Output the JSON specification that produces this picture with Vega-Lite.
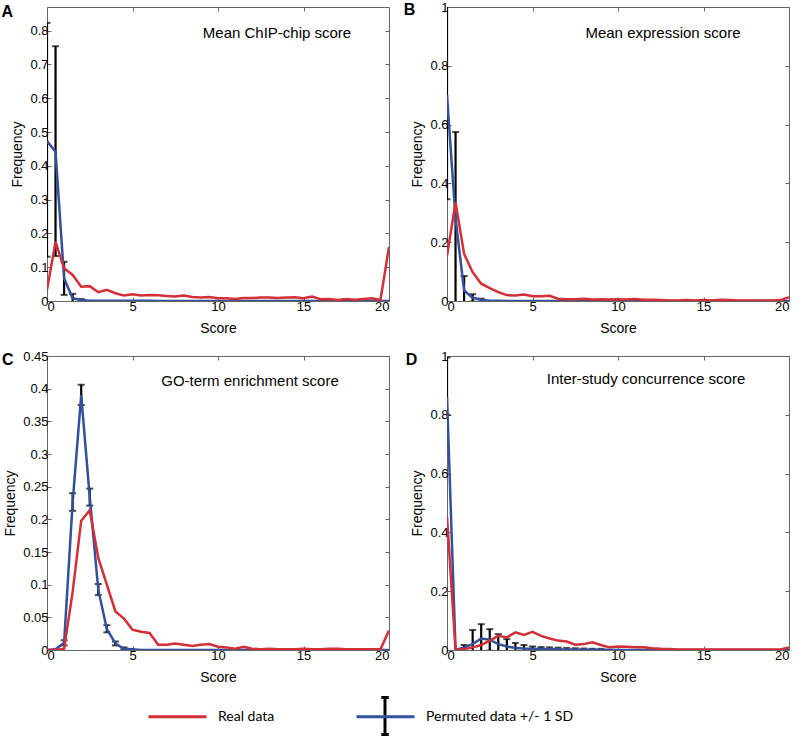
{
"$schema":"https://vega.github.io/schema/vega-lite/v6.json",
"autosize":{"type":"pad"},
"padding":{"left":1,"top":0,"right":0,"bottom":0},
"background":"white",
"datasets":{
"A":[
{"score":0,"real":0.033,"perm":0.473,"lo":0.131,"hi":0.823},
{"score":0.5,"real":0.175,"perm":0.442,"lo":0.133,"hi":0.754},
{"score":1,"real":0.097,"perm":0.067,"lo":0.018,"hi":0.116},
{"score":1.5,"real":0.077,"perm":0.008,"lo":-0.005,"hi":0.021},
{"score":2,"real":0.042,"perm":0.003,"lo":0,"hi":0.006},
{"score":2.5,"real":0.044,"perm":0.001},
{"score":3,"real":0.026,"perm":0.001},
{"score":3.5,"real":0.033,"perm":0.001},
{"score":4,"real":0.023,"perm":0.001},
{"score":4.5,"real":0.016,"perm":0.001},
{"score":5,"real":0.02,"perm":0.001},
{"score":5.5,"real":0.016,"perm":0.001},
{"score":6,"real":0.018,"perm":0.001},
{"score":6.5,"real":0.017,"perm":0},
{"score":7,"real":0.015,"perm":0},
{"score":7.5,"real":0.013,"perm":0},
{"score":8,"real":0.016,"perm":0},
{"score":8.5,"real":0.012,"perm":0},
{"score":9,"real":0.01,"perm":0},
{"score":9.5,"real":0.012,"perm":0},
{"score":10,"real":0.008,"perm":0},
{"score":10.5,"real":0.008,"perm":0},
{"score":11,"real":0.006,"perm":0},
{"score":11.5,"real":0.009,"perm":0},
{"score":12,"real":0.009,"perm":0},
{"score":12.5,"real":0.01,"perm":0},
{"score":13,"real":0.01,"perm":0},
{"score":13.5,"real":0.009,"perm":0},
{"score":14,"real":0.01,"perm":0},
{"score":14.5,"real":0.011,"perm":0},
{"score":15,"real":0.008,"perm":0},
{"score":15.5,"real":0.013,"perm":0},
{"score":16,"real":0.005,"perm":0},
{"score":16.5,"real":0.006,"perm":0},
{"score":17,"real":0.003,"perm":0},
{"score":17.5,"real":0.006,"perm":0},
{"score":18,"real":0.004,"perm":0},
{"score":18.5,"real":0.006,"perm":0},
{"score":19,"real":0.008,"perm":0},
{"score":19.5,"real":0.003,"perm":0},
{"score":20,"real":0.16,"perm":0}
],
"B":[
{"score":0,"real":0.154,"perm":0.70,"lo":0.346,"hi":1.05},
{"score":0.5,"real":0.335,"perm":0.28,"lo":-0.02,"hi":0.575},
{"score":1,"real":0.16,"perm":0.036,"lo":-0.015,"hi":0.085},
{"score":1.5,"real":0.098,"perm":0.011,"lo":-0.002,"hi":0.023},
{"score":2,"real":0.059,"perm":0.004,"lo":-0.002,"hi":0.008},
{"score":2.5,"real":0.044,"perm":0.001},
{"score":3,"real":0.03,"perm":0.001},
{"score":3.5,"real":0.02,"perm":0},
{"score":4,"real":0.019,"perm":0},
{"score":4.5,"real":0.022,"perm":0},
{"score":5,"real":0.016,"perm":0},
{"score":5.5,"real":0.016,"perm":0},
{"score":6,"real":0.018,"perm":0},
{"score":6.5,"real":0.008,"perm":0},
{"score":7,"real":0.006,"perm":0},
{"score":7.5,"real":0.006,"perm":0},
{"score":8,"real":0.008,"perm":0},
{"score":8.5,"real":0.005,"perm":0},
{"score":9,"real":0.006,"perm":0},
{"score":9.5,"real":0.005,"perm":0},
{"score":10,"real":0.006,"perm":0},
{"score":10.5,"real":0.005,"perm":0},
{"score":11,"real":0.007,"perm":0},
{"score":11.5,"real":0.004,"perm":0},
{"score":12,"real":0.004,"perm":0},
{"score":12.5,"real":0.003,"perm":0},
{"score":13,"real":0.002,"perm":0},
{"score":13.5,"real":0.002,"perm":0},
{"score":14,"real":0.003,"perm":0},
{"score":14.5,"real":0.002,"perm":0},
{"score":15,"real":0.003,"perm":0},
{"score":15.5,"real":0.002,"perm":0},
{"score":16,"real":0.004,"perm":0},
{"score":16.5,"real":0.003,"perm":0},
{"score":17,"real":0.002,"perm":0},
{"score":17.5,"real":0.002,"perm":0},
{"score":18,"real":0.002,"perm":0},
{"score":18.5,"real":0.002,"perm":0},
{"score":19,"real":0.002,"perm":0},
{"score":19.5,"real":0.003,"perm":0},
{"score":20,"real":0.013,"perm":0}
],
"C":[
{"score":0,"real":0,"perm":0},
{"score":0.5,"real":0,"perm":0.001},
{"score":1,"real":0.002,"perm":0.011,"lo":0.007,"hi":0.015},
{"score":1.5,"real":0.089,"perm":0.226,"lo":0.213,"hi":0.24},
{"score":2,"real":0.198,"perm":0.39,"lo":0.375,"hi":0.406},
{"score":2.5,"real":0.214,"perm":0.234,"lo":0.221,"hi":0.247},
{"score":3,"real":0.141,"perm":0.092,"lo":0.084,"hi":0.101},
{"score":3.5,"real":0.10,"perm":0.032,"lo":0.027,"hi":0.038},
{"score":4,"real":0.059,"perm":0.01,"lo":0.007,"hi":0.013},
{"score":4.5,"real":0.048,"perm":0.002,"lo":0.001,"hi":0.004},
{"score":5,"real":0.031,"perm":0.001},
{"score":5.5,"real":0.028,"perm":0},
{"score":6,"real":0.026,"perm":0},
{"score":6.5,"real":0.008,"perm":0},
{"score":7,"real":0.008,"perm":0},
{"score":7.5,"real":0.01,"perm":0},
{"score":8,"real":0.008,"perm":0},
{"score":8.5,"real":0.006,"perm":0},
{"score":9,"real":0.008,"perm":0},
{"score":9.5,"real":0.009,"perm":0},
{"score":10,"real":0.005,"perm":0},
{"score":10.5,"real":0.004,"perm":0},
{"score":11,"real":0.002,"perm":0},
{"score":11.5,"real":0.005,"perm":0},
{"score":12,"real":0.002,"perm":0},
{"score":12.5,"real":0.001,"perm":0},
{"score":13,"real":0.002,"perm":0},
{"score":13.5,"real":0.001,"perm":0},
{"score":14,"real":0.001,"perm":0},
{"score":14.5,"real":0.001,"perm":0},
{"score":15,"real":0.002,"perm":0},
{"score":15.5,"real":0.001,"perm":0},
{"score":16,"real":0.001,"perm":0},
{"score":16.5,"real":0.002,"perm":0},
{"score":17,"real":0.002,"perm":0},
{"score":17.5,"real":0.001,"perm":0},
{"score":18,"real":0.001,"perm":0},
{"score":18.5,"real":0.001,"perm":0},
{"score":19,"real":0.001,"perm":0},
{"score":19.5,"real":0.001,"perm":0},
{"score":20,"real":0.03,"perm":0}
],
"D":[
{"score":0,"real":0.454,"perm":0.86,"lo":0.8,"hi":0.995},
{"score":0.5,"real":0,"perm":0},
{"score":1,"real":0.003,"perm":0.009,"lo":-0.01,"hi":0.017},
{"score":1.5,"real":0.009,"perm":0.02,"lo":-0.03,"hi":0.068},
{"score":2,"real":0.017,"perm":0.039,"lo":-0.01,"hi":0.088},
{"score":2.5,"real":0.032,"perm":0.035,"lo":-0.002,"hi":0.071},
{"score":3,"real":0.048,"perm":0.02,"lo":-0.014,"hi":0.054},
{"score":3.5,"real":0.043,"perm":0.012,"lo":-0.013,"hi":0.037},
{"score":4,"real":0.06,"perm":0.007,"lo":-0.01,"hi":0.024},
{"score":4.5,"real":0.051,"perm":0.005,"lo":-0.007,"hi":0.017},
{"score":5,"real":0.062,"perm":0.004,"lo":-0.004,"hi":0.012},
{"score":5.5,"real":0.048,"perm":0.003,"lo":-0.004,"hi":0.01},
{"score":6,"real":0.039,"perm":0.003,"lo":-0.003,"hi":0.009},
{"score":6.5,"real":0.032,"perm":0.002,"lo":-0.004,"hi":0.008},
{"score":7,"real":0.029,"perm":0.002,"lo":-0.003,"hi":0.007},
{"score":7.5,"real":0.018,"perm":0.002,"lo":-0.002,"hi":0.006},
{"score":8,"real":0.02,"perm":0.001,"lo":-0.003,"hi":0.005},
{"score":8.5,"real":0.026,"perm":0.001,"lo":-0.002,"hi":0.004},
{"score":9,"real":0.017,"perm":0.001,"lo":-0.002,"hi":0.004},
{"score":9.5,"real":0.009,"perm":0.001},
{"score":10,"real":0.012,"perm":0},
{"score":10.5,"real":0.011,"perm":0},
{"score":11,"real":0.009,"perm":0},
{"score":11.5,"real":0.009,"perm":0},
{"score":12,"real":0.006,"perm":0},
{"score":12.5,"real":0.004,"perm":0},
{"score":13,"real":0.003,"perm":0},
{"score":13.5,"real":0.002,"perm":0},
{"score":14,"real":0.002,"perm":0},
{"score":14.5,"real":0.002,"perm":0},
{"score":15,"real":0.002,"perm":0},
{"score":15.5,"real":0.002,"perm":0},
{"score":16,"real":0.002,"perm":0},
{"score":16.5,"real":0.002,"perm":0},
{"score":17,"real":0.002,"perm":0},
{"score":17.5,"real":0.002,"perm":0},
{"score":18,"real":0.002,"perm":0},
{"score":18.5,"real":0.002,"perm":0},
{"score":19,"real":0.002,"perm":0},
{"score":19.5,"real":0.002,"perm":0},
{"score":20,"real":0.009,"perm":0}
]
},
"columns":2,
"spacing":{"row":55,"column":58},
"bounds":"flush",
"concat":[
{
"width":342,"height":294,
"data":{"name":"A"},
"layer":[
{"encoding":{"x":{"field":"score","type":"quantitative","scale":{"domain":[0,20],"nice":false},"axis":null}},
"layer":[
{"mark":{"type":"rule","clip":true,"strokeWidth":2.2,"color":"black"},
"encoding":{"y":{"field":"lo","type":"quantitative","scale":{"domain":[0,0.87],"nice":false},"axis":null},"y2":{"field":"hi"},
"color":{"datum":"Permuted data +/- 1 SD","scale":{"domain":["Permuted data +/- 1 SD"],"range":["black"]},"legend":{"orient":"none","legendX":318,"legendY":689,"title":null,"symbolType":"M0,-1V1M-0.2,-1H0.2M-0.2,1H0.2","symbolSize":1369,"symbolStrokeWidth":3,"labelExpr":"''","padding":0}}}},
{"mark":{"type":"tick","orient":"horizontal","clip":true,"size":7,"thickness":2,"color":"black"},
"encoding":{"y":{"field":"lo","type":"quantitative","scale":{"domain":[0,0.87],"nice":false},"axis":null}}},
{"mark":{"type":"tick","orient":"horizontal","clip":true,"size":7,"thickness":2,"color":"black"},
"encoding":{"y":{"field":"hi","type":"quantitative","scale":{"domain":[0,0.87],"nice":false},"axis":null}}},
{"mark":{"type":"line","clip":true,"strokeWidth":2.5},
"encoding":{"y":{"field":"perm","type":"quantitative","scale":{"domain":[0,0.87],"nice":false},"axis":null},"stroke":{"datum":"Permuted data +/- 1 SD","scale":{"domain":["Real data","Permuted data +/- 1 SD"],"range":["#d42f37","#32509c"]}}}},
{"mark":{"type":"line","clip":true,"strokeWidth":2.5},
"encoding":{"y":{"field":"real","type":"quantitative","scale":{"domain":[0,0.87],"nice":false},"axis":null},"stroke":{"datum":"Real data","scale":{"domain":["Real data","Permuted data +/- 1 SD"],"range":["#d42f37","#32509c"]},
"legend":{"orient":"none","legendX":100,"legendY":679,"direction":"horizontal","title":null,"symbolType":"stroke","symbolSize":3364,"symbolStrokeWidth":3,"labelFont":"Lato","labelFontSize":14,"labelColor":"black","labelOffset":10,"columnPadding":75,"padding":0}}}},
{"transform":[{"filter":"datum.score == 0"}],"mark":{"type":"text","font":"Liberation Sans","fontSize":15,"align":"center","baseline":"middle","text":"Mean ChIP-chip score"},
"encoding":{"x":{"datum":13.45,"type":"quantitative","scale":{"domain":[0,20],"nice":false},"axis":null},"y":{"datum":0.793,"type":"quantitative","scale":{"domain":[0,0.87],"nice":false},"axis":null}}},
{"transform":[{"filter":"datum.score == 0"}],"mark":{"type":"text","font":"Liberation Sans","fontSize":16,"fontWeight":"bold","align":"center","baseline":"middle","text":"A"},
"encoding":{"x":{"datum":-2.32,"type":"quantitative","scale":{"domain":[0,20],"nice":false},"axis":null},"y":{"datum":0.854,"type":"quantitative","scale":{"domain":[0,0.87],"nice":false},"axis":null}}}
]},
{"mark":{"type":"point","opacity":0},
"encoding":{"x":{"field":"score","type":"quantitative","scale":{"domain":[0,20],"nice":false},"axis":{"orient":"bottom","values":[0,5,10,15,20],"title":"Score"}},
"y":{"field":"real","type":"quantitative","scale":{"domain":[0,0.87],"nice":false},"axis":{"orient":"left","values":[0,0.1,0.2,0.3,0.4,0.5,0.6,0.7,0.8],"format":"~g","title":"Frequency"}}}},
{"mark":{"type":"point","opacity":0},
"encoding":{"x":{"field":"score","type":"quantitative","scale":{"domain":[0,20],"nice":false},"axis":{"orient":"top","values":[0,5,10,15,20],"labels":false,"title":null}},
"y":{"field":"real","type":"quantitative","scale":{"domain":[0,0.87],"nice":false},"axis":{"orient":"right","values":[0,0.1,0.2,0.3,0.4,0.5,0.6,0.7,0.8],"labels":false,"title":null}}}}
],
"resolve":{"axis":{"x":"independent","y":"independent"}}
},
{
"width":342,"height":294,
"data":{"name":"B"},
"layer":[
{"encoding":{"x":{"field":"score","type":"quantitative","scale":{"domain":[0,20],"nice":false},"axis":null}},
"layer":[
{"mark":{"type":"rule","clip":true,"strokeWidth":2.2,"color":"black"},
"encoding":{"y":{"field":"lo","type":"quantitative","scale":{"domain":[0,1],"nice":false},"axis":null},"y2":{"field":"hi"}}},
{"mark":{"type":"tick","orient":"horizontal","clip":true,"size":7,"thickness":2,"color":"black"},
"encoding":{"y":{"field":"lo","type":"quantitative","scale":{"domain":[0,1],"nice":false},"axis":null}}},
{"mark":{"type":"tick","orient":"horizontal","clip":true,"size":7,"thickness":2,"color":"black"},
"encoding":{"y":{"field":"hi","type":"quantitative","scale":{"domain":[0,1],"nice":false},"axis":null}}},
{"mark":{"type":"line","clip":true,"strokeWidth":2.5},
"encoding":{"y":{"field":"perm","type":"quantitative","scale":{"domain":[0,1],"nice":false},"axis":null},"stroke":{"datum":"Permuted data +/- 1 SD","scale":{"domain":["Real data","Permuted data +/- 1 SD"],"range":["#d42f37","#32509c"]}}}},
{"mark":{"type":"line","clip":true,"strokeWidth":2.5},
"encoding":{"y":{"field":"real","type":"quantitative","scale":{"domain":[0,1],"nice":false},"axis":null},"stroke":{"datum":"Real data","scale":{"domain":["Real data","Permuted data +/- 1 SD"],"range":["#d42f37","#32509c"]}}}},
{"transform":[{"filter":"datum.score == 0"}],"mark":{"type":"text","font":"Liberation Sans","fontSize":15,"align":"center","baseline":"middle","text":"Mean expression score"},
"encoding":{"x":{"datum":12.63,"type":"quantitative","scale":{"domain":[0,20],"nice":false},"axis":null},"y":{"datum":0.912,"type":"quantitative","scale":{"domain":[0,1],"nice":false},"axis":null}}},
{"transform":[{"filter":"datum.score == 0"}],"mark":{"type":"text","font":"Liberation Sans","fontSize":16,"fontWeight":"bold","align":"center","baseline":"middle","text":"B"},
"encoding":{"x":{"datum":-2.19,"type":"quantitative","scale":{"domain":[0,20],"nice":false},"axis":null},"y":{"datum":0.99,"type":"quantitative","scale":{"domain":[0,1],"nice":false},"axis":null}}}
]},
{"mark":{"type":"point","opacity":0},
"encoding":{"x":{"field":"score","type":"quantitative","scale":{"domain":[0,20],"nice":false},"axis":{"orient":"bottom","values":[0,5,10,15,20],"title":"Score"}},
"y":{"field":"real","type":"quantitative","scale":{"domain":[0,1],"nice":false},"axis":{"orient":"left","values":[0,0.2,0.4,0.6,0.8,1],"format":"~g","title":"Frequency"}}}},
{"mark":{"type":"point","opacity":0},
"encoding":{"x":{"field":"score","type":"quantitative","scale":{"domain":[0,20],"nice":false},"axis":{"orient":"top","values":[0,5,10,15,20],"labels":false,"title":null}},
"y":{"field":"real","type":"quantitative","scale":{"domain":[0,1],"nice":false},"axis":{"orient":"right","values":[0,0.2,0.4,0.6,0.8,1],"labels":false,"title":null}}}}
],
"resolve":{"axis":{"x":"independent","y":"independent"}}
},
{
"width":342,"height":294,
"data":{"name":"C"},
"layer":[
{"encoding":{"x":{"field":"score","type":"quantitative","scale":{"domain":[0,20],"nice":false},"axis":null}},
"layer":[
{"mark":{"type":"rule","clip":true,"strokeWidth":2.2,"color":"black"},
"encoding":{"y":{"field":"lo","type":"quantitative","scale":{"domain":[0,0.45],"nice":false},"axis":null},"y2":{"field":"hi"}}},
{"mark":{"type":"tick","orient":"horizontal","clip":true,"size":7,"thickness":2,"color":"black"},
"encoding":{"y":{"field":"lo","type":"quantitative","scale":{"domain":[0,0.45],"nice":false},"axis":null}}},
{"mark":{"type":"tick","orient":"horizontal","clip":true,"size":7,"thickness":2,"color":"black"},
"encoding":{"y":{"field":"hi","type":"quantitative","scale":{"domain":[0,0.45],"nice":false},"axis":null}}},
{"mark":{"type":"line","clip":true,"strokeWidth":2.5},
"encoding":{"y":{"field":"perm","type":"quantitative","scale":{"domain":[0,0.45],"nice":false},"axis":null},"stroke":{"datum":"Permuted data +/- 1 SD","scale":{"domain":["Real data","Permuted data +/- 1 SD"],"range":["#d42f37","#32509c"]}}}},
{"mark":{"type":"line","clip":true,"strokeWidth":2.5},
"encoding":{"y":{"field":"real","type":"quantitative","scale":{"domain":[0,0.45],"nice":false},"axis":null},"stroke":{"datum":"Real data","scale":{"domain":["Real data","Permuted data +/- 1 SD"],"range":["#d42f37","#32509c"]}}}},
{"transform":[{"filter":"datum.score == 0"}],"mark":{"type":"text","font":"Liberation Sans","fontSize":15,"align":"center","baseline":"middle","text":"GO-term enrichment score"},
"encoding":{"x":{"datum":11.87,"type":"quantitative","scale":{"domain":[0,20],"nice":false},"axis":null},"y":{"datum":0.412,"type":"quantitative","scale":{"domain":[0,0.45],"nice":false},"axis":null}}},
{"transform":[{"filter":"datum.score == 0"}],"mark":{"type":"text","font":"Liberation Sans","fontSize":16,"fontWeight":"bold","align":"center","baseline":"middle","text":"C"},
"encoding":{"x":{"datum":-2.3,"type":"quantitative","scale":{"domain":[0,20],"nice":false},"axis":null},"y":{"datum":0.444,"type":"quantitative","scale":{"domain":[0,0.45],"nice":false},"axis":null}}}
]},
{"mark":{"type":"point","opacity":0},
"encoding":{"x":{"field":"score","type":"quantitative","scale":{"domain":[0,20],"nice":false},"axis":{"orient":"bottom","values":[0,5,10,15,20],"title":"Score"}},
"y":{"field":"real","type":"quantitative","scale":{"domain":[0,0.45],"nice":false},"axis":{"orient":"left","values":[0,0.05,0.1,0.15,0.2,0.25,0.3,0.35,0.4,0.45],"format":"~g","title":"Frequency"}}}},
{"mark":{"type":"point","opacity":0},
"encoding":{"x":{"field":"score","type":"quantitative","scale":{"domain":[0,20],"nice":false},"axis":{"orient":"top","values":[0,5,10,15,20],"labels":false,"title":null}},
"y":{"field":"real","type":"quantitative","scale":{"domain":[0,0.45],"nice":false},"axis":{"orient":"right","values":[0,0.05,0.1,0.15,0.2,0.25,0.3,0.35,0.4,0.45],"labels":false,"title":null}}}}
],
"resolve":{"axis":{"x":"independent","y":"independent"}}
},
{
"width":342,"height":294,
"data":{"name":"D"},
"layer":[
{"encoding":{"x":{"field":"score","type":"quantitative","scale":{"domain":[0,20],"nice":false},"axis":null}},
"layer":[
{"mark":{"type":"rule","clip":true,"strokeWidth":2.2,"color":"black"},
"encoding":{"y":{"field":"lo","type":"quantitative","scale":{"domain":[0,1],"nice":false},"axis":null},"y2":{"field":"hi"}}},
{"mark":{"type":"tick","orient":"horizontal","clip":true,"size":7,"thickness":2,"color":"black"},
"encoding":{"y":{"field":"lo","type":"quantitative","scale":{"domain":[0,1],"nice":false},"axis":null}}},
{"mark":{"type":"tick","orient":"horizontal","clip":true,"size":7,"thickness":2,"color":"black"},
"encoding":{"y":{"field":"hi","type":"quantitative","scale":{"domain":[0,1],"nice":false},"axis":null}}},
{"mark":{"type":"line","clip":true,"strokeWidth":2.5},
"encoding":{"y":{"field":"perm","type":"quantitative","scale":{"domain":[0,1],"nice":false},"axis":null},"stroke":{"datum":"Permuted data +/- 1 SD","scale":{"domain":["Real data","Permuted data +/- 1 SD"],"range":["#d42f37","#32509c"]}}}},
{"mark":{"type":"line","clip":true,"strokeWidth":2.5},
"encoding":{"y":{"field":"real","type":"quantitative","scale":{"domain":[0,1],"nice":false},"axis":null},"stroke":{"datum":"Real data","scale":{"domain":["Real data","Permuted data +/- 1 SD"],"range":["#d42f37","#32509c"]}}}},
{"transform":[{"filter":"datum.score == 0"}],"mark":{"type":"text","font":"Liberation Sans","fontSize":15,"align":"center","baseline":"middle","text":"Inter-study concurrence score"},
"encoding":{"x":{"datum":11.64,"type":"quantitative","scale":{"domain":[0,20],"nice":false},"axis":null},"y":{"datum":0.922,"type":"quantitative","scale":{"domain":[0,1],"nice":false},"axis":null}}},
{"transform":[{"filter":"datum.score == 0"}],"mark":{"type":"text","font":"Liberation Sans","fontSize":16,"fontWeight":"bold","align":"center","baseline":"middle","text":"D"},
"encoding":{"x":{"datum":-2.08,"type":"quantitative","scale":{"domain":[0,20],"nice":false},"axis":null},"y":{"datum":0.986,"type":"quantitative","scale":{"domain":[0,1],"nice":false},"axis":null}}}
]},
{"mark":{"type":"point","opacity":0},
"encoding":{"x":{"field":"score","type":"quantitative","scale":{"domain":[0,20],"nice":false},"axis":{"orient":"bottom","values":[0,5,10,15,20],"title":"Score"}},
"y":{"field":"real","type":"quantitative","scale":{"domain":[0,1],"nice":false},"axis":{"orient":"left","values":[0,0.2,0.4,0.6,0.8,1],"format":"~g","title":"Frequency"}}}},
{"mark":{"type":"point","opacity":0},
"encoding":{"x":{"field":"score","type":"quantitative","scale":{"domain":[0,20],"nice":false},"axis":{"orient":"top","values":[0,5,10,15,20],"labels":false,"title":null}},
"y":{"field":"real","type":"quantitative","scale":{"domain":[0,1],"nice":false},"axis":{"orient":"right","values":[0,0.2,0.4,0.6,0.8,1],"labels":false,"title":null}}}}
],
"resolve":{"axis":{"x":"independent","y":"independent"}}
}
],
"config":{
"font":"Liberation Sans",
"view":{"stroke":"#666","strokeWidth":1},
"axis":{"domain":false,"grid":false,"tickSize":-4,"tickColor":"#666","labelFont":"Liberation Sans","labelFontSize":13,"labelColor":"black","labelOverlap":false,"titleFont":"Liberation Sans","titleFontSize":14,"titleFontWeight":"normal","titleColor":"black","labelPadding":3,"titlePadding":5},
"axisX":{"titlePadding":8}
}
}
